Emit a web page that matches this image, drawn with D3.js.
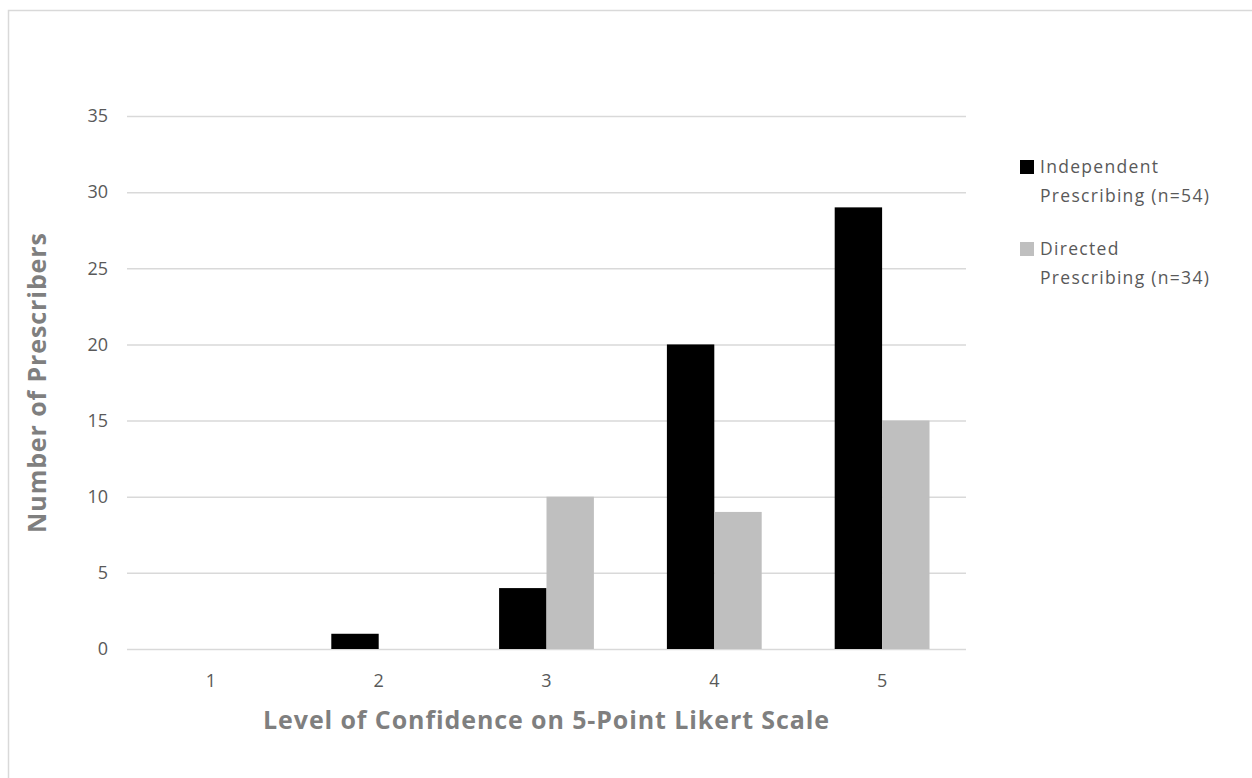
<!DOCTYPE html>
<html>
<head>
<meta charset="utf-8">
<script src="https://cdn.jsdelivr.net/npm/d3@7"></script>
<style>
  body { margin: 0; background: #fff; }
  text { font-family: "Open Sans", "Noto Sans", sans-serif; }
</style>
</head>
<body>
<svg id="chart" width="1252" height="778"></svg>
<script>
var categories = ["1", "2", "3", "4", "5"];
var seriesNames = ["Independent Prescribing (n=54)", "Directed Prescribing (n=34)"];
var legendLines = [["Independent", "Prescribing (n=54)"], ["Directed", "Prescribing (n=34)"]];
var independent = [0, 1, 4, 20, 29];
var directed = [0, 0, 10, 9, 15];
var yTicks = [0, 5, 10, 15, 20, 25, 30, 35];
var colors = ["#000000", "#bfbfbf"];

var margin = { top: 116, left: 127 },
  w = 839,
  h = 533;

var svg = d3.select("#chart");

// outer chart border
svg.append("rect")
  .attr("x", 8.5).attr("y", 10.5)
  .attr("width", 1300).attr("height", 850)
  .attr("fill", "none")
  .attr("stroke", "#d9d9d9")
  .attr("stroke-width", 1.5);

var g = svg.append("g").attr("transform", `translate(${margin.left}, ${margin.top})`);

const x_scale = d3.scaleBand().domain(categories).range([0, w]).paddingInner(0.435).paddingOuter(0.2175);
const x_inner = d3.scaleBand().domain([0, 1]).range([0, x_scale.bandwidth()]);
const y_scale = d3.scaleLinear().domain([0, 35]).range([h, 0]);

// gridlines + y labels
g.append("g").attr("class", "y_axis_g")
  .call(d3.axisLeft(y_scale).tickValues(yTicks).tickSize(-w).tickPadding(19))
  .call(a => a.select(".domain").remove())
  .call(a => a.selectAll("line").attr("stroke", "#d9d9d9").attr("stroke-width", 1.5))
  .call(a => a.selectAll("text").attr("fill", "#595959").style("font-size", "18px")
    .style("font-family", "'Open Sans', sans-serif"));

var rows = categories.map((c, i) => ({ cat: c, vals: [independent[i], directed[i]] }));

g.selectAll(".grp").data(rows).join("g")
  .attr("class", "grp")
  .attr("transform", d => `translate(${x_scale(d.cat)},0)`)
  .selectAll("rect")
  .data(d => d.vals.map((v, k) => ({ k: k, v: v })))
  .join("rect")
  .attr("x", d => x_inner(d.k))
  .attr("y", d => y_scale(d.v))
  .attr("width", x_inner.bandwidth())
  .attr("height", d => h - y_scale(d.v))
  .attr("fill", d => colors[d.k]);

// x axis labels
g.append("g").attr("class", "x_axis_g")
  .attr("transform", `translate(0, ${h})`)
  .call(d3.axisBottom(x_scale).tickSize(0).tickPadding(25))
  .call(a => a.select(".domain").remove())
  .call(a => a.selectAll("text").attr("fill", "#595959").style("font-size", "18px")
    .style("font-family", "'Open Sans', sans-serif"));

// axis titles
svg.append("text")
  .attr("x", margin.left + w / 2)
  .attr("y", 729)
  .attr("text-anchor", "middle")
  .attr("fill", "#7f7f7f")
  .style("font-size", "25px")
  .style("font-weight", "bold")
  .style("letter-spacing", "0.9px")
  .text("Level of Confidence on 5-Point Likert Scale");

svg.append("text")
  .attr("transform", `translate(46, ${margin.top + h / 2}) rotate(-90)`)
  .attr("text-anchor", "middle")
  .attr("fill", "#7f7f7f")
  .style("font-size", "25px")
  .style("font-weight", "bold")
  .style("letter-spacing", "0.9px")
  .text("Number of Prescribers");

// legend
var leg = svg.selectAll(".leg").data(seriesNames).join("g")
  .attr("class", "leg")
  .attr("transform", (d, i) => `translate(1020, ${160 + i * 82})`);

leg.append("rect")
  .attr("width", 14).attr("height", 14)
  .attr("fill", (d, i) => colors[i]);

leg.each(function (d, i) {
  var t = d3.select(this).append("text")
    .attr("fill", "#595959")
    .style("font-size", "17.5px")
    .style("letter-spacing", "1.3px");
  legendLines[i].forEach((line, j) => {
    t.append("tspan").attr("x", 20).attr("y", 13 + j * 29).text(line);
  });
});
</script>
</body>
</html>
